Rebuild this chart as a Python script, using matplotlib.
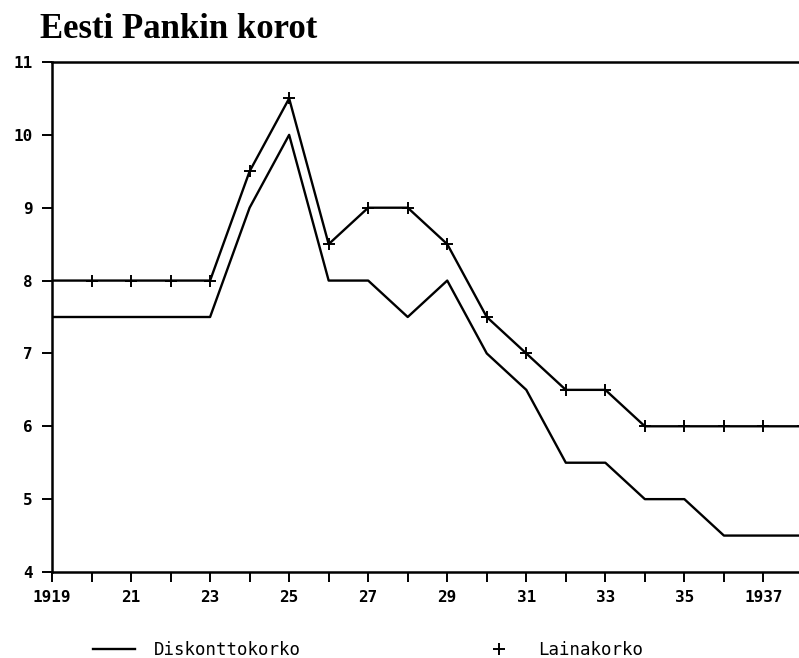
import matplotlib
matplotlib.use("Agg")
import matplotlib.pyplot as plt
from matplotlib.lines import Line2D

years = list(range(1919, 1939))
diskonttokorko = [7.5, 7.5, 7.5, 7.5, 7.5, 9.0, 10.0, 8.0, 8.0, 7.5,
                  8.0, 7.0, 6.5, 5.5, 5.5, 5.0, 5.0, 4.5, 4.5, 4.5]
lainakorko = [8.0, 8.0, 8.0, 8.0, 8.0, 9.5, 10.5, 8.5, 9.0, 9.0,
              8.5, 7.5, 7.0, 6.5, 6.5, 6.0, 6.0, 6.0, 6.0, 6.0]
xtick_vals = [1919, 1921, 1923, 1925, 1927, 1929, 1931, 1933, 1935, 1937]
xtick_labels = ["1919", "21", "23", "25", "27", "29", "31", "33", "35", "1937"]
ytick_vals = [4, 5, 6, 7, 8, 9, 10, 11]

fig = plt.figure(figsize=(7.99, 6.58), dpi=100)
ax = fig.add_axes([52/799, 1-572/658, 1-52/799, (572-62)/658])

ax.plot(years, diskonttokorko, color="black", lw=1.7)
ax.plot(years, lainakorko, color="black", lw=1.7, marker="+", markersize=8,
        markeredgewidth=1.4, markevery=slice(1, None))

ax.set_xlim(1919, 1937.9)
ax.set_ylim(4, 11)
ax.set_xticks(xtick_vals)
ax.set_xticklabels(xtick_labels)
ax.set_xticks(years[:19], minor=True)
ax.set_yticks(ytick_vals)
ax.tick_params(axis="y", which="both", direction="out", length=7, width=1.4,
               labelsize=11.5, colors="black", pad=7)
ax.tick_params(axis="x", which="both", direction="out", length=7, width=1.4,
               labelsize=11.5, colors="black", pad=6)
for lbl in ax.get_xticklabels() + ax.get_yticklabels():
    lbl.set_family("DejaVu Sans Mono")
    lbl.set_fontweight("bold")
ax.spines["right"].set_visible(False)
for s in ["left", "bottom", "top"]:
    ax.spines[s].set_linewidth(1.8)

fig.text(40/799, 1-29/658, "Eesti Pankin korot", family="Liberation Serif",
         fontweight="bold", fontsize=25, va="center", ha="left")

handles = [Line2D([], [], color="black", lw=1.7),
           Line2D([], [], color="black", lw=0, marker="+", markersize=8,
                  markeredgewidth=1.4)]
leg = fig.legend(handles, ["Diskonttokorko", "Lainakorko"], ncol=2,
                 loc="center left", bbox_to_anchor=(93/799, 1-650/658),
                 frameon=False, handlelength=2.4, columnspacing=10.2,
                 handletextpad=1.1, borderpad=0, borderaxespad=0,
                 prop={"family": "DejaVu Sans Mono", "size": 12.5})
fig.savefig("out.png", dpi=100)
